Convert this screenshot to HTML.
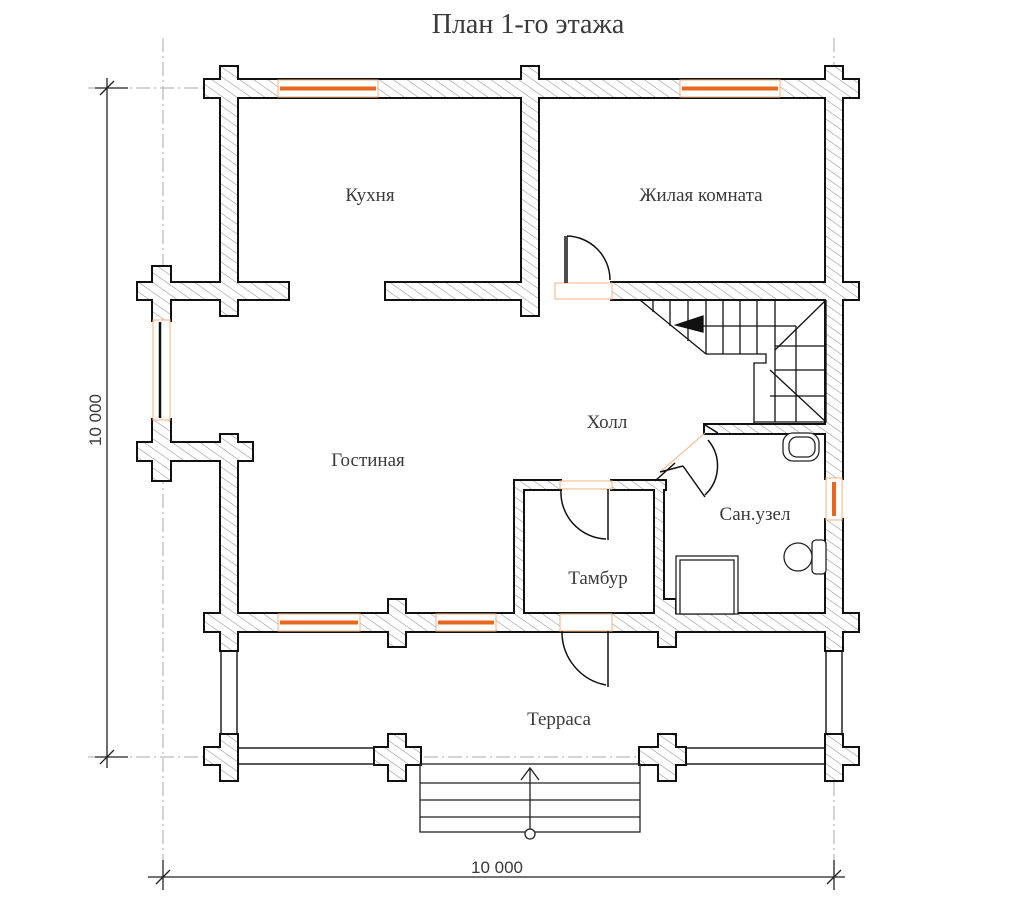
<!DOCTYPE html>
<html><head><meta charset="utf-8"><style>
html,body{margin:0;padding:0;background:#fff;width:1024px;height:921px;overflow:hidden}
svg{display:block}
text{font-family:"Liberation Serif",serif;fill:#3a3a3a}
</style></head><body>
<svg width="1024" height="921" viewBox="0 0 1024 921" xmlns="http://www.w3.org/2000/svg">
<defs>
<pattern id="h" width="8" height="8" patternUnits="userSpaceOnUse" patternTransform="rotate(-55)">
<rect width="8" height="8" fill="#fff"/><line x1="0" y1="0" x2="0" y2="8" stroke="#8a8a8a" stroke-width="1"/>
</pattern>
</defs>
<g stroke="#aaa" stroke-width="1" stroke-dasharray="14,4,2,4" fill="none">
<line x1="163" y1="38" x2="163" y2="885"/>
<line x1="834" y1="38" x2="834" y2="885"/>
<line x1="88" y1="88" x2="230" y2="88"/>
<line x1="88" y1="757" x2="858" y2="757"/>
</g>
<g stroke="#222" stroke-width="1.3">
<line x1="107" y1="78" x2="107" y2="768"/>
<line x1="95" y1="88" x2="128" y2="88"/><line x1="95" y1="757" x2="128" y2="757"/>
<line x1="100" y1="95" x2="114" y2="81"/><line x1="100" y1="764" x2="114" y2="750"/>
<line x1="148" y1="877" x2="845" y2="877"/>
<line x1="163" y1="860" x2="163" y2="890"/><line x1="834" y1="860" x2="834" y2="890"/>
<line x1="156" y1="884" x2="170" y2="870"/><line x1="827" y1="884" x2="841" y2="870"/>
</g>
<text x="497" y="873" font-size="17" text-anchor="middle" style="font-family:'Liberation Sans',sans-serif">10 000</text>
<text x="0" y="0" font-size="17" text-anchor="middle" transform="translate(101,420) rotate(-90)" style="font-family:'Liberation Sans',sans-serif">10 000</text>
<text x="528" y="33" font-size="28" text-anchor="middle">План 1-го этажа</text>

<g fill="#fff" stroke="#222" stroke-width="1.5">
<rect x="237" y="748" width="150" height="16"/>
<rect x="405" y="748" width="15" height="16"/>
<rect x="640" y="748" width="19" height="16"/>
<rect x="675" y="748" width="151" height="16"/>
<rect x="221" y="650" width="16" height="90"/>
<rect x="826" y="650" width="16" height="90"/>
</g>

<g stroke="#111" stroke-width="4" fill="none">
<g id="w">
<rect x="205" y="80" width="653" height="17"/>
<rect x="221" y="67" width="16" height="248"/>
<rect x="826" y="67" width="16" height="248"/>
<rect x="522" y="67" width="16" height="248"/>
<rect x="138" y="283" width="150" height="16"/>
<rect x="386" y="283" width="152" height="16"/>
<rect x="612" y="283" width="246" height="16"/>
<rect x="153" y="267" width="17" height="53"/>
<rect x="153" y="420" width="17" height="60"/>
<rect x="138" y="443" width="114" height="17"/>
<rect x="221" y="435" width="16" height="215"/>
<rect x="826" y="283" width="16" height="195"/>
<rect x="826" y="520" width="16" height="130"/>
<rect x="205" y="614" width="653" height="17"/>
<rect x="389" y="600" width="16" height="46"/>
<rect x="659" y="600" width="16" height="46"/>
<rect x="221" y="600" width="16" height="50"/>
<rect x="826" y="600" width="16" height="50"/>
<rect x="205" y="748" width="32" height="16"/>
<rect x="221" y="735" width="16" height="45"/>
<rect x="375" y="748" width="45" height="16"/>
<rect x="389" y="735" width="16" height="45"/>
<rect x="640" y="748" width="45" height="16"/>
<rect x="659" y="735" width="16" height="45"/>
<rect x="826" y="748" width="32" height="16"/>
<rect x="826" y="735" width="16" height="45"/>
<rect x="515" y="481" width="45" height="8"/>
<rect x="612" y="481" width="53" height="8"/>
<rect x="515" y="481" width="8" height="133"/>
<rect x="655" y="481" width="8" height="133"/>
<rect x="705" y="425" width="121" height="8"/>
</g>
</g>
<use href="#w" stroke="none" fill="url(#h)"/>

<g>
<rect x="278" y="80" width="100" height="17" fill="#fff" stroke="#f4b080" stroke-width="1"/>
<line x1="280" y1="88.5" x2="376" y2="88.5" stroke="#e8661e" stroke-width="4"/>
<rect x="680" y="80" width="100" height="17" fill="#fff" stroke="#f4b080" stroke-width="1"/>
<line x1="682" y1="88.5" x2="778" y2="88.5" stroke="#e8661e" stroke-width="4"/>
<rect x="278" y="614" width="82" height="17" fill="#fff" stroke="#f4b080" stroke-width="1"/>
<line x1="280" y1="622.5" x2="358" y2="622.5" stroke="#e8661e" stroke-width="4"/>
<rect x="436" y="614" width="60" height="17" fill="#fff" stroke="#f4b080" stroke-width="1"/>
<line x1="438" y1="622.5" x2="494" y2="622.5" stroke="#e8661e" stroke-width="4"/>
<rect x="826" y="478" width="16" height="42" fill="#fff" stroke="#f4b080" stroke-width="1"/>
<line x1="834" y1="482" x2="834" y2="516" stroke="#e8661e" stroke-width="4"/>
<rect x="153" y="320" width="17" height="100" fill="#fff" stroke="#f4b080" stroke-width="1"/>
<line x1="160" y1="322" x2="160" y2="418" stroke="#111" stroke-width="2.5"/>
</g>

<g fill="none" stroke="#111" stroke-width="1.5">
<rect x="555" y="283" width="57" height="16" fill="#fff" stroke="#f4b080" stroke-width="1"/>
<path d="M565 283 V236 M567 283 V236 M567 236 A44 44 0 0 1 610 280"/>
<rect x="560" y="481" width="52" height="8" fill="#fff" stroke="#f4b080" stroke-width="1"/>
<path d="M608 489 V540 M561 489 A47 47 0 0 0 606 539"/>
<rect x="560" y="614" width="52" height="17" fill="#fff" stroke="#f4b080" stroke-width="1"/>
<path d="M608 631 V687 M562 631 A54 54 0 0 0 606 685"/>
<line x1="660" y1="472" x2="705" y2="433" stroke="#f4b080" stroke-width="1"/>
<path d="M705 425 L718 433 M683 466 L705 497 M708 440 A40 40 0 0 1 705 495"/>
<path d="M655 481 L675 463 M660 472 L683 466"/>
</g>

<g fill="none" stroke="#111" stroke-width="1.3">
<path d="M640 300 L706 354 H766 V363 H754 V425"/>
<path d="M826 300 V422 H754"/>
<line x1="653" y1="300" x2="653" y2="312"/><line x1="670" y1="300" x2="670" y2="326"/>
<line x1="688" y1="300" x2="688" y2="341"/><line x1="706" y1="300" x2="706" y2="354"/>
<line x1="723" y1="300" x2="723" y2="354"/><line x1="740" y1="300" x2="740" y2="354"/>
<line x1="757" y1="300" x2="757" y2="354"/><line x1="775" y1="300" x2="775" y2="350"/>
<line x1="775" y1="350" x2="826" y2="300"/>
<line x1="697" y1="326" x2="796" y2="326"/><line x1="796" y1="326" x2="796" y2="422"/>
<line x1="775" y1="346" x2="826" y2="346"/><line x1="775" y1="370" x2="826" y2="370"/>
<line x1="770" y1="396" x2="826" y2="396"/><line x1="770" y1="370" x2="826" y2="422"/>
<line x1="775" y1="350" x2="775" y2="422"/>
<path d="M676 325 L703 316 V332 Z" fill="#111"/>
</g>

<g fill="#fff" stroke="#222" stroke-width="1.3">
<rect x="783" y="433" width="36" height="28" rx="10"/>
<rect x="789" y="437" width="26" height="20" rx="8"/>
<rect x="676" y="556" width="62" height="58"/>
<rect x="680" y="560" width="54" height="54"/>
<rect x="812" y="540" width="14" height="34" rx="4"/>
<ellipse cx="798" cy="557" rx="14" ry="14"/>
</g>

<g fill="none" stroke="#222" stroke-width="1.3">
<rect x="420" y="764" width="220" height="68"/>
<line x1="420" y1="783" x2="640" y2="783"/><line x1="420" y1="800" x2="640" y2="800"/><line x1="420" y1="817" x2="640" y2="817"/>
<line x1="530" y1="768" x2="530" y2="830"/>
<path d="M521 780 L530 768 L539 780"/>
<circle cx="530" cy="834" r="5" fill="#fff"/>
</g>

<g font-size="19">
<text x="370" y="201" text-anchor="middle">Кухня</text>
<text x="701" y="201" text-anchor="middle">Жилая комната</text>
<text x="368" y="466" text-anchor="middle">Гостиная</text>
<text x="607" y="428" text-anchor="middle">Холл</text>
<text x="755" y="520" text-anchor="middle">Сан.узел</text>
<text x="598" y="584" text-anchor="middle">Тамбур</text>
<text x="559" y="725" text-anchor="middle">Терраса</text>
</g>
</svg>
</body></html>
